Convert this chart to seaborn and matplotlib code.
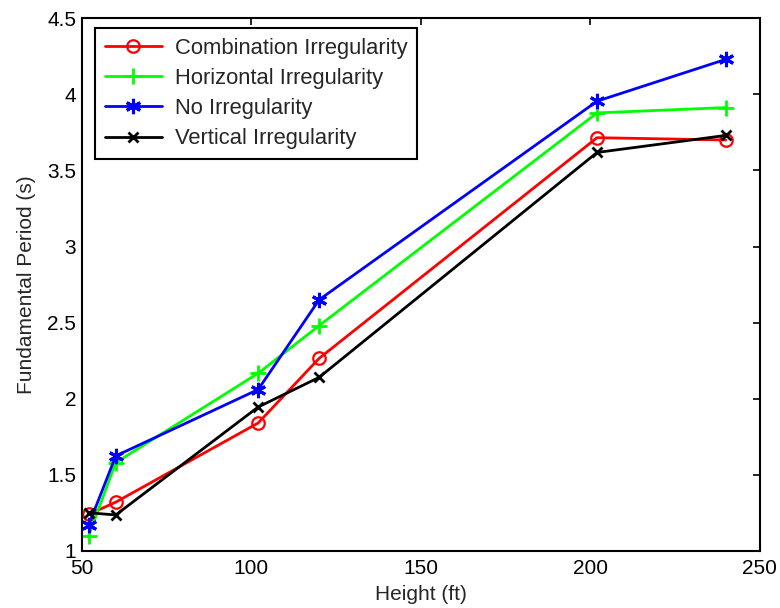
import matplotlib
matplotlib.use("Agg")
import matplotlib.pyplot as plt
import seaborn as sns
import pandas as pd
import numpy as np

# values
heights = [52, 60, 102, 120, 202, 240]
combination = [1.24, 1.32, 1.84, 2.265, 3.715, 3.70]
horizontal = [1.10, 1.58, 2.167, 2.48, 3.878, 3.913]
no_irreg = [1.17, 1.624, 2.06, 2.65, 3.955, 4.23]
vertical = [1.25, 1.236, 1.945, 2.14, 3.618, 3.73]

labels = ["Combination Irregularity", "Horizontal Irregularity",
          "No Irregularity", "Vertical Irregularity"]

sns.set_style("white")
plt.rcParams['font.family'] = ['Liberation Sans', 'DejaVu Sans']

fig, ax = plt.subplots(figsize=(7.8, 6.08), dpi=100)
fig.subplots_adjust(left=0.105, right=0.974, bottom=0.094, top=0.970)

series = [
    (combination, labels[0], "#ff0000", "o", 9, 1.6, "none"),
    (horizontal, labels[1], "#00ff00", "+", 12, 2.0, None),
    (no_irreg, labels[2], "#0000ff", (6, 2, 0), 11, 2.2, None),
    (vertical, labels[3], "#000000", "x", 7, 2.0, None),
]

for vals, lab, col, mk, ms, mew, mfc in series:
    df = pd.DataFrame({"Height": heights, "Period": vals})
    sns.lineplot(data=df, x="Height", y="Period", ax=ax, color=col,
                 marker=mk, markersize=ms, markeredgewidth=mew,
                 markeredgecolor=col,
                 markerfacecolor=(mfc if mfc else col),
                 linewidth=2, label=lab)

ax.set_xlim(50, 250)
ax.set_ylim(1, 4.5)
ax.set_xticks([50, 100, 150, 200, 250])
ax.set_yticks([1, 1.5, 2, 2.5, 3, 3.5, 4, 4.5])
ax.set_yticklabels(["1", "1.5", "2", "2.5", "3", "3.5", "4", "4.5"])
ax.tick_params(direction="in", length=5, width=1.2, labelsize=15,
               top=True, right=True, colors="black", pad=4)
ax.tick_params(axis="x", pad=6)
for s in ax.spines.values():
    s.set_color("black")
    s.set_linewidth(1.5)

ax.set_xlabel("Height (ft)", fontsize=15, labelpad=5)
ax.set_ylabel("Fundamental Period (s)", fontsize=15, labelpad=8)

leg = ax.legend(loc="upper left", bbox_to_anchor=(0.019, 0.982),
                fontsize=15.8, handlelength=2.6, fancybox=False,
                framealpha=1, edgecolor="black", borderaxespad=0,
                labelspacing=0.42, borderpad=0.45, handletextpad=0.6)
leg.get_frame().set_linewidth(1.5)

fig.savefig("out.png", dpi=100)
